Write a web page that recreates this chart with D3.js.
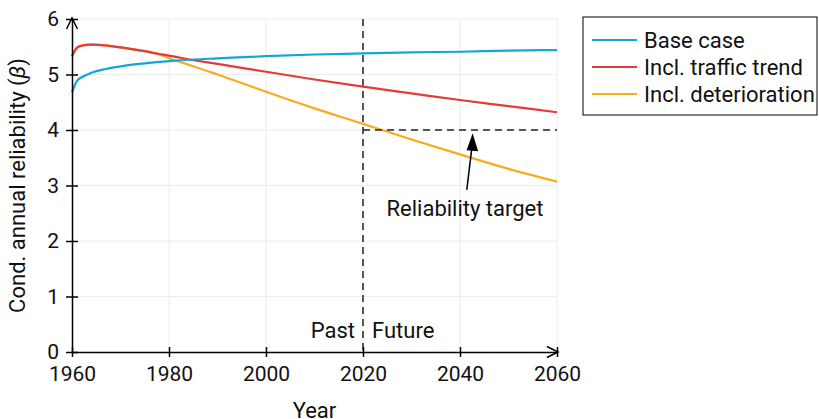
<!DOCTYPE html>
<html>
<head>
<meta charset="utf-8">
<script src="https://cdn.jsdelivr.net/npm/d3@7"></script>
<style>
  body { margin: 0; background: #fff; }
  svg { font-family: Roboto, "DejaVu Sans", sans-serif; }
</style>
</head>
<body>
<div class="chart"></div>
<script>
var seriesNames = ["Base case", "Incl. traffic trend", "Incl. deterioration"];
var seriesColors = ["#12a6db", "#e23c3c", "#f6ad1c"];

var baseYears = [1960, 1961, 1962, 1964, 1967, 1971, 1975, 1980, 1985, 1990, 2000, 2010, 2020, 2030, 2040, 2050, 2060];
var baseValues = [4.68, 4.88, 4.95, 5.03, 5.10, 5.16, 5.20, 5.24, 5.27, 5.29, 5.33, 5.36, 5.38, 5.40, 5.41, 5.43, 5.44];

var trafficYears = [1960, 1961, 1962, 1964, 1966, 1970, 1975, 1978, 1980, 1985, 1990, 2000, 2010, 2020, 2030, 2040, 2050, 2060];
var trafficValues = [5.33, 5.48, 5.52, 5.54, 5.53, 5.49, 5.42, 5.37, 5.34, 5.26, 5.19, 5.05, 4.91, 4.78, 4.66, 4.54, 4.43, 4.32];

var deterYears = [1960, 1961, 1962, 1964, 1966, 1970, 1975, 1978, 1981, 1985, 1990, 2000, 2010, 2020, 2030, 2040, 2050, 2060];
var deterValues = [5.33, 5.48, 5.52, 5.54, 5.53, 5.49, 5.42, 5.36, 5.26, 5.15, 5.00, 4.69, 4.39, 4.11, 3.83, 3.56, 3.30, 3.07];

var xTicks = [1960, 1980, 2000, 2020, 2040, 2060];
var yTicks = [0, 1, 2, 3, 4, 5, 6];
var targetValue = 4;
var splitYear = 2020;

function init() {
  var w = 819, h = 419;
  var padLeft = 72, padRight = 557, padTop = 19, padBottom = 352;
  var fs = "22px";

  var svg = d3.select(".chart").append("svg").attr("width", w).attr("height", h);

  var x = d3.scaleLinear().domain([1960, 2060]).range([padLeft, padRight]);
  var y = d3.scaleLinear().domain([0, 6]).range([padBottom, padTop]);

  // grid
  svg.append("g").selectAll("line").data(xTicks.slice(1)).enter().append("line")
    .attr("x1", function(d) { return x(d); }).attr("x2", function(d) { return x(d); })
    .attr("y1", y(6)).attr("y2", y(0))
    .attr("stroke", "#ececec").attr("stroke-width", 1);
  svg.append("g").selectAll("line").data(yTicks.slice(1)).enter().append("line")
    .attr("x1", x(1960)).attr("x2", x(2060))
    .attr("y1", function(d) { return y(d); }).attr("y2", function(d) { return y(d); })
    .attr("stroke", "#ececec").attr("stroke-width", 1);

  // past/future divider
  svg.append("line")
    .attr("x1", x(splitYear)).attr("x2", x(splitYear))
    .attr("y1", y(6)).attr("y2", y(0))
    .attr("stroke", "#222").attr("stroke-width", 1.5).attr("stroke-dasharray", "7,5");

  var line = d3.line()
    .x(function(d) { return x(d[0]); })
    .y(function(d) { return y(d[1]); })
    .curve(d3.curveMonotoneX);

  var series = [
    d3.zip(baseYears, baseValues),
    d3.zip(trafficYears, trafficValues),
    d3.zip(deterYears, deterValues)
  ];

  // orange first, so red is drawn on top where they overlap
  [2, 1, 0].forEach(function(i) {
    svg.append("path")
      .datum(series[i])
      .attr("d", line)
      .attr("fill", "none")
      .attr("stroke", seriesColors[i])
      .attr("stroke-width", 2.2);
  });

  svg.append("line")
    .attr("x1", x(splitYear)).attr("x2", x(2060))
    .attr("y1", y(targetValue)).attr("y2", y(targetValue))
    .attr("stroke", "#222").attr("stroke-width", 1.5).attr("stroke-dasharray", "7,5");

  // axes
  var xAxis = d3.axisBottom(x).tickValues(xTicks).tickFormat(d3.format("d")).tickSizeInner(5).tickSizeOuter(0);
  var gx = svg.append("g").attr("transform", "translate(0," + padBottom + ")").call(xAxis);
  gx.select(".domain").attr("stroke", "#000").attr("stroke-width", 1.5);
  gx.selectAll(".tick line").attr("y1", -5).attr("stroke", "#000").attr("stroke-width", 1.5);
  gx.selectAll(".tick text").attr("y", 14).attr("font-size", "21px").attr("font-family", "Roboto").attr("fill", "#111");

  var yAxis = d3.axisLeft(y).tickValues(yTicks).tickFormat(d3.format("d")).tickSizeInner(6).tickSizeOuter(0);
  var gy = svg.append("g").attr("transform", "translate(" + padLeft + ",0)").call(yAxis);
  gy.select(".domain").attr("stroke", "#000").attr("stroke-width", 1.5);
  gy.selectAll(".tick line").attr("x2", 6).attr("x1", -6).attr("stroke", "#000").attr("stroke-width", 1.5);
  gy.selectAll(".tick text").attr("x", -13).attr("font-size", "21px").attr("font-family", "Roboto").attr("fill", "#111");

  // axis arrowheads
  svg.append("path")
    .attr("d", "M" + (padLeft - 5.5) + "," + (padTop + 10) + "L" + padLeft + "," + (padTop - 1) + "L" + (padLeft + 5.5) + "," + (padTop + 10))
    .attr("fill", "none").attr("stroke", "#000").attr("stroke-width", 1.5);
  svg.append("path")
    .attr("d", "M" + (padRight - 10) + "," + (padBottom - 5.5) + "L" + (padRight + 1) + "," + padBottom + "L" + (padRight - 10) + "," + (padBottom + 5.5))
    .attr("fill", "none").attr("stroke", "#000").attr("stroke-width", 1.5);

  // axis titles
  svg.append("text")
    .attr("x", (padLeft + padRight) / 2).attr("y", 418)
    .attr("text-anchor", "middle").attr("font-size", fs).attr("fill", "#111")
    .text("Year");

  var yt = svg.append("text")
    .attr("transform", "translate(25," + ((padTop + padBottom) / 2) + ") rotate(-90)")
    .attr("text-anchor", "middle").attr("font-size", fs).attr("fill", "#111");
  yt.append("tspan").text("Cond. annual reliability (");
  yt.append("tspan").attr("font-style", "italic").text("β");
  yt.append("tspan").text(")");

  // past / future
  svg.append("text").attr("x", x(splitYear) - 8).attr("y", 338)
    .attr("text-anchor", "end").attr("font-size", fs).attr("fill", "#111").text("Past");
  svg.append("text").attr("x", x(splitYear) + 9).attr("y", 338)
    .attr("text-anchor", "start").attr("font-size", fs).attr("fill", "#111").text("Future");

  // reliability target annotation
  var tipX = x(2042.6), tipY = y(3.94);
  svg.append("line")
    .attr("x1", x(2041.4)).attr("y1", y(2.92))
    .attr("x2", tipX).attr("y2", tipY + 8)
    .attr("stroke", "#000").attr("stroke-width", 1.5);
  svg.append("path")
    .attr("d", "M" + (tipX - 6) + "," + (tipY + 17) + "L" + tipX + "," + tipY + "L" + (tipX + 5.5) + "," + (tipY + 18) + "Z")
    .attr("fill", "#000");
  svg.append("text").attr("x", 465).attr("y", 216)
    .attr("text-anchor", "middle").attr("font-size", fs).attr("fill", "#111").text("Reliability target");

  // legend
  var legend = svg.append("g").attr("transform", "translate(583,17)");
  legend.append("rect").attr("width", 234).attr("height", 98)
    .attr("fill", "#fff").attr("stroke", "#000").attr("stroke-width", 1);
  var item = legend.selectAll(".legend-item").data(seriesNames).enter().append("g")
    .attr("class", "legend-item")
    .attr("transform", function(d, i) { return "translate(0," + (23 + i * 27) + ")"; });
  item.append("line").attr("x1", 9).attr("x2", 54).attr("y1", 0).attr("y2", 0)
    .attr("stroke", function(d, i) { return seriesColors[i]; }).attr("stroke-width", 2);
  item.append("text").attr("x", 61).attr("y", 8).attr("font-size", fs).attr("fill", "#111")
    .text(function(d) { return d; });
}

window.onload = init;
</script>
</body>
</html>
